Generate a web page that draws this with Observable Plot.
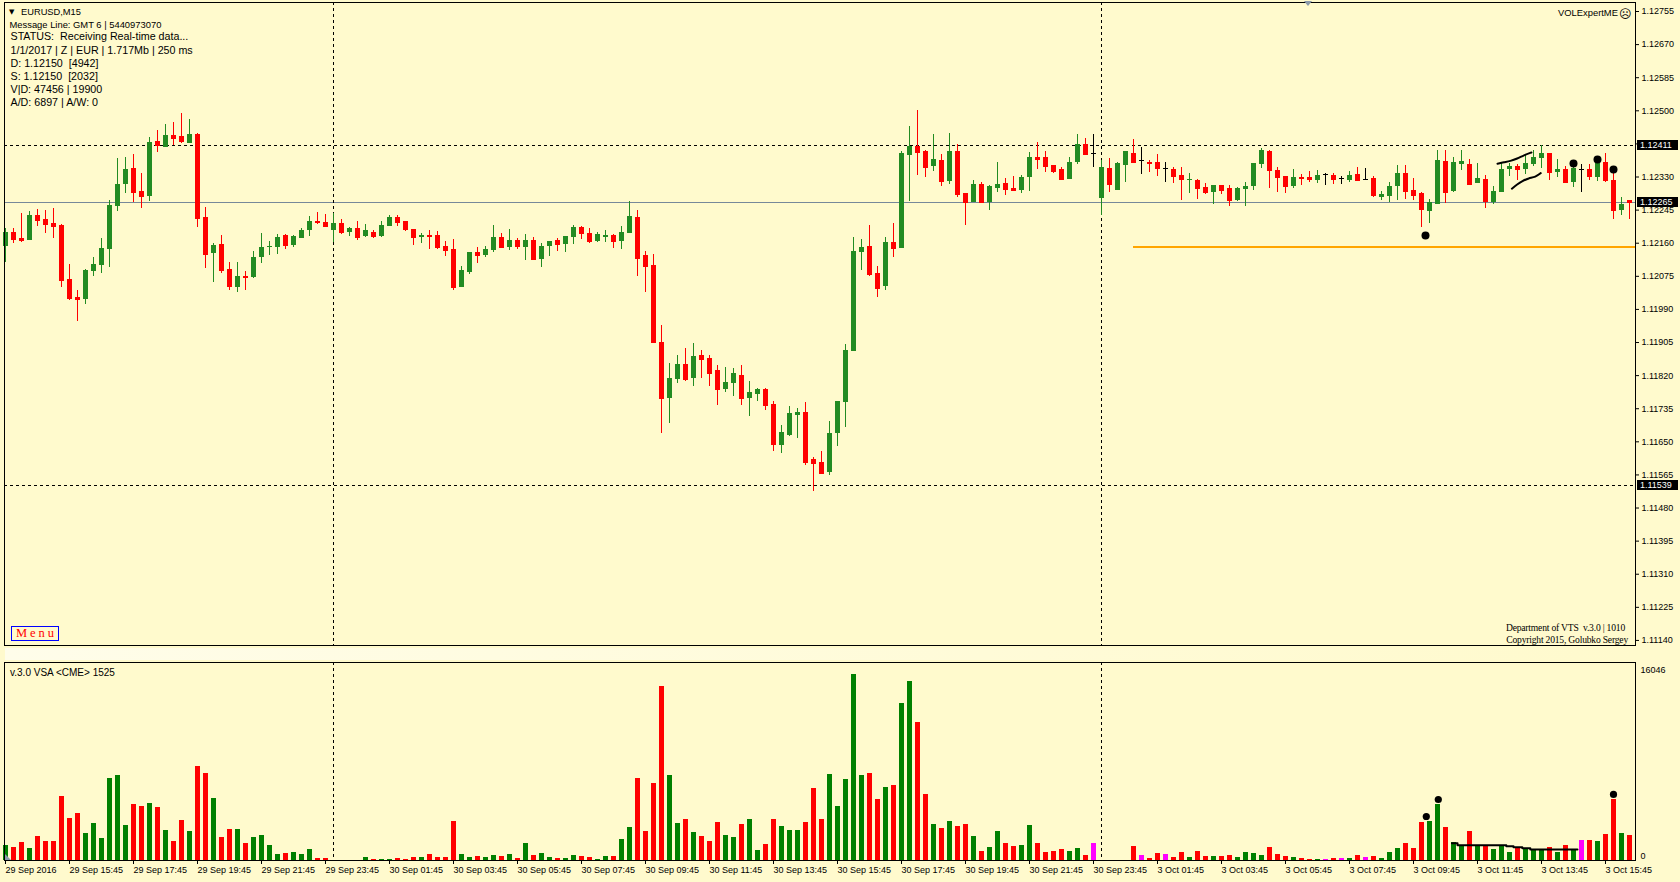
<!DOCTYPE html>
<html><head><meta charset="utf-8">
<script src="https://cdn.jsdelivr.net/npm/d3@7"></script>
<script src="https://cdn.jsdelivr.net/npm/@observablehq/plot@0.6"></script>
<style>
html,body{margin:0;padding:0;background:#FFFACD;}
#wrap{position:relative;width:1680px;height:882px;overflow:hidden;background:#FFFACD;font-family:"Liberation Sans",Arial,sans-serif;color:#000;}
#wrap svg{position:absolute;left:0;}
.t{position:absolute;white-space:pre;line-height:1;color:#000;}
.box{position:absolute;left:1637px;width:41px;height:10px;background:#000;color:#fff;font-size:9px;line-height:10px;padding-left:3px;box-sizing:border-box;font-family:"Liberation Sans",Arial,sans-serif;}
</style></head><body><div id="wrap"></div><script>
// ---------- data ----------
const tickLabels = ["29 Sep 2016","29 Sep 15:45","29 Sep 17:45","29 Sep 19:45","29 Sep 21:45","29 Sep 23:45","30 Sep 01:45","30 Sep 03:45","30 Sep 05:45","30 Sep 07:45","30 Sep 09:45","30 Sep 11:45","30 Sep 13:45","30 Sep 15:45","30 Sep 17:45","30 Sep 19:45","30 Sep 21:45","30 Sep 23:45","3 Oct 01:45","3 Oct 03:45","3 Oct 05:45","3 Oct 07:45","3 Oct 09:45","3 Oct 11:45","3 Oct 13:45","3 Oct 15:45"];
const open = [
1.12152,1.12187,1.12171,1.12167,1.12231,1.12221,1.12210,1.12205,1.12067,1.12020,
1.12015,1.12087,1.12102,1.12144,1.12254,1.12311,1.12351,1.12292,1.12280,1.12421,
1.12406,1.12436,1.12434,1.12416,1.12439,1.12226,1.12133,1.12157,1.12092,1.12046,
1.12075,1.12072,1.12123,1.12149,1.12149,1.12179,1.12154,1.12171,1.12192,1.12215,
1.12213,1.12192,1.12210,1.12187,1.12197,1.12177,1.12187,1.12177,1.12203,1.12226,
1.12215,1.12195,1.12174,1.12179,1.12179,1.12152,1.12144,1.12046,1.12085,1.12136,
1.12128,1.12141,1.12174,1.12149,1.12167,1.12149,1.12167,1.12118,1.12152,1.12167,
1.12157,1.12174,1.12200,1.12184,1.12164,1.12174,1.12179,1.12164,1.12184,1.12226,
1.12128,1.12102,1.11905,1.11761,1.11810,1.11849,1.11812,1.11871,1.11864,1.11833,
1.11784,1.11799,1.11820,1.11761,1.11771,1.11784,1.11746,1.11640,1.11666,1.11717,
1.11725,1.11604,1.11597,1.11571,1.11671,1.11751,1.11882,1.12136,1.12152,1.12082,
1.12049,1.12162,1.12146,1.12385,1.12408,1.12395,1.12357,1.12372,1.12318,1.12395,
1.12287,1.12264,1.12311,1.12264,1.12300,1.12313,1.12300,1.12295,1.12328,1.12380,
1.12380,1.12359,1.12349,1.12323,1.12367,1.12413,1.12390,1.12275,1.12351,1.12295,
1.12359,1.12390,1.12372,1.12367,1.12367,1.12351,1.12349,1.12333,1.12321,1.12321,
1.12303,1.12290,1.12308,1.12300,1.12269,1.12298,1.12305,1.12362,1.12395,1.12346,
1.12331,1.12305,1.12328,1.12328,1.12321,1.12336,1.12333,1.12326,1.12321,1.12336,
1.12323,1.12326,1.12277,1.12280,1.12305,1.12338,1.12295,1.12287,1.12241,1.12259,
1.12370,1.12292,1.12362,1.12362,1.12313,1.12323,1.12264,1.12290,1.12349,1.12357,
1.12349,1.12362,1.12377,1.12390,1.12341,1.12349,1.12316,1.12349,1.12349,1.12328,
1.12367,1.12321,1.12244,1.12270];
const high = [
1.12197,1.12197,1.12236,1.12241,1.12246,1.12244,1.12248,1.12208,1.12105,1.12038,
1.12092,1.12123,1.12171,1.12269,1.12377,1.12380,1.12388,1.12338,1.12431,1.12449,
1.12465,1.12470,1.12493,1.12478,1.12441,1.12251,1.12159,1.12179,1.12110,1.12110,
1.12087,1.12138,1.12184,1.12164,1.12182,1.12182,1.12179,1.12197,1.12229,1.12239,
1.12234,1.12236,1.12221,1.12200,1.12215,1.12208,1.12192,1.12215,1.12231,1.12231,
1.12215,1.12195,1.12184,1.12192,1.12190,1.12164,1.12169,1.12100,1.12136,1.12149,
1.12152,1.12205,1.12184,1.12195,1.12171,1.12182,1.12174,1.12159,1.12164,1.12171,
1.12177,1.12205,1.12203,1.12197,1.12187,1.12192,1.12182,1.12203,1.12267,1.12244,
1.12138,1.12131,1.11948,1.11851,1.11871,1.11889,1.11902,1.11884,1.11871,1.11846,
1.11841,1.11838,1.11846,1.11805,1.11787,1.11787,1.11753,1.11692,1.11740,1.11735,
1.11751,1.11610,1.11625,1.11702,1.11753,1.11900,1.12174,1.12169,1.12205,1.12100,
1.12174,1.12210,1.12395,1.12459,1.12501,1.12398,1.12439,1.12388,1.12441,1.12413,
1.12287,1.12321,1.12316,1.12308,1.12367,1.12326,1.12331,1.12333,1.12393,1.12419,
1.12395,1.12359,1.12354,1.12380,1.12439,1.12429,1.12439,1.12372,1.12377,1.12367,
1.12395,1.12426,1.12406,1.12372,1.12388,1.12367,1.12354,1.12354,1.12338,1.12323,
1.12313,1.12308,1.12308,1.12308,1.12303,1.12316,1.12364,1.12403,1.12398,1.12354,
1.12331,1.12349,1.12336,1.12344,1.12346,1.12338,1.12338,1.12331,1.12344,1.12354,
1.12351,1.12331,1.12292,1.12316,1.12359,1.12359,1.12326,1.12290,1.12272,1.12398,
1.12398,1.12380,1.12398,1.12375,1.12364,1.12333,1.12305,1.12364,1.12364,1.12362,
1.12388,1.12398,1.12411,1.12390,1.12375,1.12357,1.12362,1.12362,1.12362,1.12382,
1.12390,1.12341,1.12277,1.12270];
const low = [
1.12110,1.12159,1.12162,1.12167,1.12203,1.12184,1.12171,1.12046,1.12013,1.11958,
1.12003,1.12075,1.12082,1.12097,1.12241,1.12287,1.12264,1.12248,1.12267,1.12393,
1.12406,1.12411,1.12416,1.12416,1.12200,1.12094,1.12059,1.12082,1.12038,1.12033,
1.12038,1.12069,1.12108,1.12128,1.12131,1.12144,1.12149,1.12171,1.12177,1.12208,
1.12203,1.12162,1.12182,1.12177,1.12167,1.12174,1.12171,1.12174,1.12203,1.12203,
1.12190,1.12154,1.12159,1.12144,1.12144,1.12126,1.12038,1.12046,1.12079,1.12108,
1.12123,1.12136,1.12149,1.12141,1.12144,1.12115,1.12115,1.12097,1.12126,1.12138,
1.12136,1.12157,1.12169,1.12159,1.12162,1.12162,1.12146,1.12144,1.12184,1.12075,
1.12033,1.11902,1.11671,1.11696,1.11799,1.11805,1.11792,1.11812,1.11792,1.11743,
1.11776,1.11766,1.11743,1.11715,1.11753,1.11730,1.11625,1.11620,1.11664,1.11658,
1.11589,1.11522,1.11566,1.11563,1.11638,1.11687,1.11882,1.12090,1.12075,1.12020,
1.12038,1.12123,1.12146,1.12267,1.12333,1.12328,1.12344,1.12305,1.12311,1.12277,
1.12205,1.12264,1.12264,1.12244,1.12290,1.12282,1.12292,1.12287,1.12292,1.12349,
1.12341,1.12338,1.12321,1.12323,1.12362,1.12385,1.12354,1.12231,1.12290,1.12295,
1.12316,1.12367,1.12336,1.12341,1.12331,1.12316,1.12313,1.12269,1.12287,1.12272,
1.12285,1.12259,1.12285,1.12254,1.12267,1.12254,1.12295,1.12351,1.12300,1.12290,
1.12287,1.12300,1.12308,1.12316,1.12313,1.12308,1.12310,1.12310,1.12316,1.12318,
1.12321,1.12277,1.12269,1.12264,1.12269,1.12272,1.12269,1.12200,1.12210,1.12259,
1.12262,1.12290,1.12346,1.12308,1.12313,1.12248,1.12259,1.12290,1.12331,1.12321,
1.12336,1.12357,1.12351,1.12321,1.12328,1.12313,1.12303,1.12290,1.12321,1.12318,
1.12316,1.12221,1.12231,1.12221];
const close = [
1.12187,1.12169,1.12167,1.12231,1.12218,1.12208,1.12203,1.12064,1.12017,1.12015,
1.12090,1.12105,1.12146,1.12256,1.12311,1.12349,1.12290,1.12280,1.12419,1.12411,
1.12436,1.12428,1.12421,1.12439,1.12223,1.12131,1.12154,1.12090,1.12049,1.12075,
1.12072,1.12123,1.12149,1.12152,1.12174,1.12154,1.12177,1.12192,1.12215,1.12213,
1.12203,1.12210,1.12187,1.12197,1.12174,1.12192,1.12177,1.12205,1.12226,1.12213,
1.12195,1.12174,1.12179,1.12177,1.12149,1.12141,1.12046,1.12090,1.12136,1.12128,
1.12144,1.12174,1.12149,1.12167,1.12152,1.12167,1.12118,1.12152,1.12164,1.12157,
1.12177,1.12200,1.12184,1.12164,1.12182,1.12179,1.12164,1.12187,1.12229,1.12121,
1.12100,1.11905,1.11761,1.11812,1.11849,1.11810,1.11869,1.11861,1.11825,1.11784,
1.11802,1.11825,1.11761,1.11776,1.11784,1.11743,1.11643,1.11674,1.11722,1.11725,
1.11597,1.11594,1.11568,1.11671,1.11753,1.11884,1.12138,1.12149,1.12079,1.12044,
1.12162,1.12146,1.12390,1.12408,1.12393,1.12354,1.12375,1.12318,1.12395,1.12285,
1.12264,1.12311,1.12264,1.12305,1.12311,1.12298,1.12295,1.12328,1.12380,1.12375,
1.12357,1.12344,1.12323,1.12367,1.12413,1.12388,1.12390,1.12354,1.12311,1.12364,
1.12395,1.12367,1.12372,1.12364,1.12351,1.12351,1.12331,1.12323,1.12323,1.12300,
1.12290,1.12308,1.12295,1.12269,1.12300,1.12305,1.12364,1.12398,1.12346,1.12328,
1.12305,1.12328,1.12326,1.12323,1.12333,1.12336,1.12323,1.12326,1.12333,1.12321,
1.12323,1.12282,1.12285,1.12305,1.12338,1.12292,1.12282,1.12246,1.12264,1.12372,
1.12290,1.12367,1.12370,1.12311,1.12326,1.12267,1.12292,1.12349,1.12357,1.12349,
1.12364,1.12380,1.12390,1.12341,1.12349,1.12316,1.12351,1.12349,1.12331,1.12364,
1.12321,1.12244,1.12259,1.12265];
const volume = [
1295,1122,1553,1036,2071,1640,1640,5523,3625,4056,
2330,3193,1899,7077,7336,3021,4833,4660,4919,4574,
2589,1640,3452,2503,8112,7508,5351,1985,2675,2675,
1467,1985,2158,1295,518,604,690,518,949,173,
173,0,0,0,0,259,86,86,86,173,
86,259,259,518,259,259,3366,518,259,345,
259,431,345,518,173,1467,431,604,259,173,
173,431,345,259,86,345,345,1812,2848,7077,
2503,6645,15016,7336,3193,3538,2416,2071,1640,3279,
2158,1985,3107,3538,863,1381,3538,2934,2589,2589,
3279,6214,3538,7422,4660,6990,16046,7336,7508,5264,
6300,6473,13549,15448,11909,5696,3107,2762,3366,2934,
3107,2071,777,1122,2503,1467,1208,1295,3021,1467,
690,777,949,777,1036,431,1467,0,0,0,
0,1208,431,173,604,518,259,690,259,777,
345,345,345,431,259,690,604,431,1122,518,
345,259,150,86,86,86,173,173,173,431,
259,345,173,690,1036,1467,1036,3279,3366,4833,
2848,1553,1295,2503,1295,1295,949,1295,690,1122,
1036,949,949,1122,690,1295,949,1726,1726,1640,
2244,5264,2330,2158];
const priceTicks = [1.12755,1.12670,1.12585,1.12500,1.12415,1.12330,1.12245,1.12160,1.12075,1.11990,1.11905,1.11820,1.11735,1.11650,1.11565,1.11480,1.11395,1.11310,1.11225,1.11140];
const volumeTicks = [0, 16046];
const dashedLevels = [1.12411, 1.11539];
const bidLevel = 1.12265;
const orangeLevel = 1.12150;
const orangeStartBar = 141;
const sessionBars = [41, 137];
const priceDotBars = [177.5, 196, 199, 201];
const priceDotValues = [1.12180, 1.12365, 1.12375, 1.12349];
const volDotBars = [177.6, 179.1, 201];
const volDotValues = [3797, 5264, 5696];
const upperTrendBars = [186.5, 187.3, 188.1, 188.96, 189.8, 190.75];
const upperTrendValues = [1.12364, 1.12368, 1.12371, 1.12377, 1.12386, 1.12393];
const lowerTrendBars = [188.3, 188.96, 189.6, 190.4, 191.25, 191.9];
const lowerTrendValues = [1.12300, 1.12311, 1.12320, 1.12327, 1.12330, 1.12340];
const avgVolBars = [180.8, 181.5, 187.6, 188.5, 189.6, 190.6, 196.5];
const avgVolValues = [1493, 1320, 1234, 1148, 1061, 949, 949];

// ---------- build ----------
const bars = open.map((o, i) => ({i, o, h: high[i], l: low[i], c: close[i], v: volume[i]}));
const candleColor = d => d.c > d.o ? "#228B22" : d.c < d.o ? "#FF0000" : "#000000";
const volColor = d => d.c > d.o ? "#008000" : d.c < d.o ? "#FF0000" : "#FF00FF";
const half = 0.3125;
const xDomain = [-0.125, 203.75];
const font = "Liberation Sans, Arial, sans-serif";
const zip = (a, b) => a.map((x, k) => ({x, y: b[k]}));

const main = Plot.plot({
  width: 1680, height: 646,
  marginTop: 2, marginBottom: 1, marginLeft: 4, marginRight: 45,
  style: {background: "transparent", fontFamily: font, fontSize: "9px", color: "#000", overflow: "visible"},
  x: {domain: xDomain, axis: null},
  y: {domain: [1.11127, 1.12755], range: [645, 11], axis: null},
  marks: [
    Plot.ruleY(dashedLevels, {stroke: "#000", strokeDasharray: "3,3", shapeRendering: "crispEdges"}),
    Plot.ruleY([bidLevel], {stroke: "#778899", shapeRendering: "crispEdges"}),
    Plot.ruleX(sessionBars, {stroke: "#000", strokeDasharray: "3,3", shapeRendering: "crispEdges"}),
    Plot.ruleY([orangeLevel], {x1: () => orangeStartBar, x2: () => xDomain[1], stroke: "#FFA500", strokeWidth: 2, shapeRendering: "crispEdges"}),
    Plot.ruleX(bars, {x: "i", y1: "l", y2: "h", stroke: candleColor, shapeRendering: "crispEdges"}),
    Plot.rect(bars, {x1: d => d.i - half, x2: d => d.i + half, y1: "o", y2: "c", fill: candleColor, shapeRendering: "crispEdges"}),
    Plot.ruleY(bars, {y: "c", x1: d => d.i - half, x2: d => d.i + half, stroke: candleColor, shapeRendering: "crispEdges"}),
    Plot.line(zip(upperTrendBars, upperTrendValues), {x: "x", y: "y", stroke: "#000", strokeWidth: 2, curve: "basis"}),
    Plot.line(zip(lowerTrendBars, lowerTrendValues), {x: "x", y: "y", stroke: "#000", strokeWidth: 2, curve: "basis"}),
    Plot.dot(zip(priceDotBars, priceDotValues), {x: "x", y: "y", r: 4, fill: "#000", stroke: "none"}),
    Plot.axisY({anchor: "right", label: null, ticks: priceTicks, tickFormat: d3.format(".5f"), tickSize: 3, tickPadding: 3, fontSize: 9, fill: "#000", stroke: "#000"}),
    Plot.frame({stroke: "#000", shapeRendering: "crispEdges"})
  ]
});
main.style.top = "0px";

const vol = Plot.plot({
  width: 1680, height: 236,
  marginTop: 16, marginBottom: 22, marginLeft: 4, marginRight: 45,
  style: {background: "transparent", fontFamily: font, fontSize: "9px", color: "#000", overflow: "visible"},
  x: {domain: xDomain, axis: null},
  y: {domain: [0, 16046], range: [214, 28], axis: null},
  marks: [
    Plot.ruleX(sessionBars, {stroke: "#000", strokeDasharray: "3,3", shapeRendering: "crispEdges"}),
    Plot.rectY(bars.filter(d => d.v > 0), {x1: d => d.i - half, x2: d => d.i + half, y: "v", fill: volColor, shapeRendering: "crispEdges"}),
    Plot.line(zip(avgVolBars, avgVolValues), {x: "x", y: "y", curve: "step-after", stroke: "#000", strokeWidth: 2}),
    Plot.dot(zip(volDotBars, volDotValues), {x: "x", y: "y", r: 3.6, fill: "#000", stroke: "none"}),
    Plot.axisX({anchor: "bottom", label: null, ticks: tickLabels.map((_, k) => k * 8), tickFormat: i => tickLabels[i / 8], tickSize: 4, tickPadding: 2, textAnchor: "start", fontSize: 9, stroke: "#000", fill: "#000"}),
    Plot.axisY({anchor: "right", label: null, ticks: volumeTicks, tickFormat: d => String(d), tickSize: 0, tickPadding: 5, dy: -4, fontSize: 9, fill: "#000"}),
    Plot.frame({stroke: "#000", shapeRendering: "crispEdges"})
  ]
});
vol.style.top = "646px";

const wrap = document.getElementById("wrap");
// faint strip between panels
const strip = document.createElement("div");
strip.style.cssText = "position:absolute;left:5px;top:648px;width:1630px;height:12px;background:linear-gradient(to right,#FFFDEA,#FFFBD8 60%,#FFFACD);";
wrap.appendChild(strip);
wrap.appendChild(main);
wrap.appendChild(vol);

// price label boxes on the right axis, placed with the chart's own y scale
const yS = main.scale("y");
[[dashedLevels[0]], [bidLevel], [dashedLevels[1]]].forEach(([v]) => {
  const b = document.createElement("div");
  b.className = "box";
  b.style.top = (yS.apply(v) - 5) + "px";
  b.textContent = d3.format(".5f")(v);
  wrap.appendChild(b);
});

function txt(s, left, cy, size, extra) {
  const d = document.createElement("div");
  d.className = "t";
  d.textContent = s;
  d.style.left = left + "px";
  d.style.top = (cy - 0.49 * size) + "px";
  d.style.fontSize = size + "px";
  if (extra) Object.assign(d.style, extra);
  wrap.appendChild(d);
  return d;
}
txt("\u25BC", 9, 12, 7, {fontFamily: "DejaVu Sans"});
txt("EURUSD,M15", 21, 12.3, 9.3);
txt("Message Line: GMT 6 | 5440973070", 9.5, 24.5, 9.4);
txt("STATUS:  Receiving Real-time data...", 10.5, 36.5, 10.7);
txt("1/1/2017 | Z | EUR | 1.717Mb | 250 ms", 10.5, 50, 10.7);
txt("D: 1.12150  [4942]", 10.5, 63, 10.7);
txt("S: 1.12150  [2032]", 10.5, 76, 10.7);
txt("V|D: 47456 | 19900", 10.5, 89, 10.7);
txt("A/D: 6897 | A/W: 0", 10.5, 102, 10.7);
txt("VOLExpertME", 1558, 13, 9.4);
txt("\u2639", 1619, 13.5, 12, {fontFamily: "DejaVu Sans"});
txt("v.3.0 VSA <CME> 1525", 10, 673, 10);
txt("Department of VTS  v.3.0 | 1010", 0, 628, 9.6, {fontFamily: "Liberation Serif, serif", right: "55px", left: "auto", letterSpacing: "-0.2px"});
txt("Copyright 2015, Golubko Sergey", 0, 640, 9.6, {fontFamily: "Liberation Serif, serif", right: "52px", left: "auto", letterSpacing: "-0.2px"});

// Menu button
const menu = document.createElement("div");
menu.textContent = "Menu";
menu.style.cssText = "position:absolute;left:11px;top:626px;width:48px;height:15px;box-sizing:border-box;border:1px solid #0000FF;color:#FF0000;font-family:'Liberation Serif',serif;font-size:12.5px;line-height:13px;letter-spacing:3px;text-align:center;padding-left:3px;background:#FFFACD;";
wrap.appendChild(menu);

// small grey markers
const tri1 = document.createElement("div");
tri1.style.cssText = "position:absolute;left:1304px;top:1px;width:0;height:0;border-left:4px solid transparent;border-right:4px solid transparent;border-top:5px solid #8A9AAA;";
wrap.appendChild(tri1);
const tri2 = document.createElement("div");
tri2.style.cssText = "position:absolute;left:5px;top:854px;width:0;height:0;border-bottom:6px solid #8A9AAA;border-right:6px solid transparent;";
wrap.appendChild(tri2);
</script></body></html>
